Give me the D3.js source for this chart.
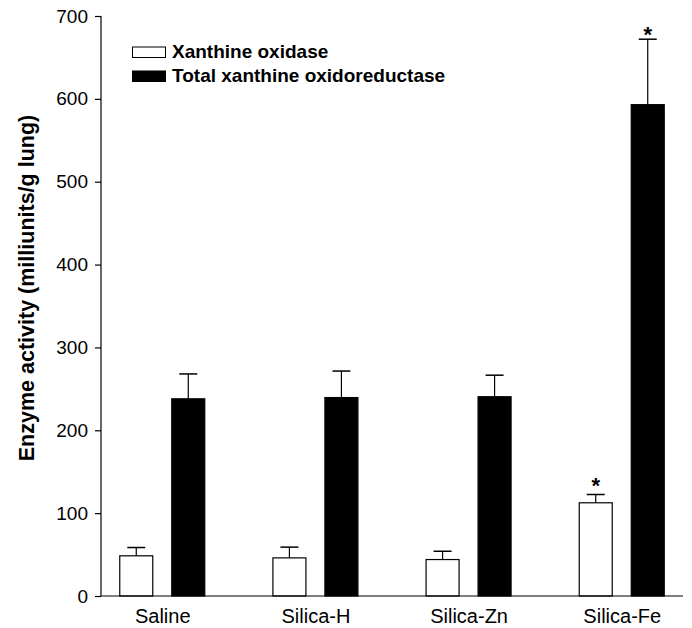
<!DOCTYPE html>
<html><head><meta charset="utf-8">
<script src="https://cdn.jsdelivr.net/npm/d3@7"></script>
<style>body{margin:0;background:#fff}svg{display:block;font-family:"Liberation Sans",Arial,sans-serif}</style>
</head><body>
<svg id="c" width="692" height="628"></svg>
<script>
const categories = ["Saline", "Silica-H", "Silica-Zn", "Silica-Fe"];
const seriesNames = ["Xanthine oxidase", "Total xanthine oxidoreductase"];
const xoValues = [48.5, 46, 44, 112.5];
const xoErrors = [10, 13, 10, 10];
const totalValues = [238, 239.5, 240.5, 593];
const totalErrors = [30, 32, 26, 79];
const xoSignif = [false, false, false, true];
const totalSignif = [false, false, false, true];
const yTicks = [0, 100, 200, 300, 400, 500, 600, 700];
const yTitle = "Enzyme activity (milliunits/g lung)";

(function () {
const svg = d3.select("#c");
const pl = 101, pr = 683, pt = 16, pb = 596;
const y = d3.scaleLinear().domain([0, 700]).range([pb, pt]);
const x = d3.scalePoint().domain(categories).range([pl, pr]).padding(0.4);
const barW = 34, offset = 26, capW = 18;

const series = [
  {vals: xoValues, errs: xoErrors, sig: xoSignif, fill: "#fff", dx: -offset, starDy: -2},
  {vals: totalValues, errs: totalErrors, sig: totalSignif, fill: "#000", dx: offset, starDy: 3}
];

series.forEach(s => {
  const g = svg.append("g");
  categories.forEach((c, i) => {
    const cx = x(c) + s.dx;
    const v = s.vals[i], e = s.errs[i];
    g.append("line").attr("x1", cx).attr("x2", cx).attr("y1", y(v)).attr("y2", y(v + e))
      .attr("stroke", "#000").attr("stroke-width", 1.2);
    g.append("line").attr("x1", cx - capW/2).attr("x2", cx + capW/2).attr("y1", y(v + e)).attr("y2", y(v + e))
      .attr("stroke", "#000").attr("stroke-width", 1.5);
    g.append("rect").attr("x", cx - barW/2 + 0.5).attr("y", y(v)).attr("width", barW - 1).attr("height", y(0) - y(v))
      .attr("fill", s.fill).attr("stroke", "#000").attr("stroke-width", 1.2);
    if (s.sig[i]) {
      g.append("text").attr("x", cx).attr("y", y(v + e) + s.starDy).attr("text-anchor", "middle")
        .attr("font-size", 22).attr("font-weight", "bold").text("*");
    }
  });
});

const yAxis = d3.axisLeft(y).tickValues(yTicks).tickSize(6).tickPadding(7).tickFormat(d3.format("d"));
const ya = svg.append("g").attr("transform", `translate(${pl},0)`).call(yAxis);
ya.select(".domain").attr("d", `M0,${pt}V${pb}`).attr("stroke-width", 1.2);
ya.selectAll("text").attr("font-size", 19).attr("font-family", "Liberation Sans, Arial, sans-serif").attr("fill", "#000");
ya.selectAll(".tick line").attr("stroke-width", 1.2);

const xa = svg.append("g").attr("transform", `translate(0,${pb})`).call(d3.axisBottom(x).tickSize(0).tickPadding(13));
xa.select(".domain").attr("d", `M${pl},0H${pr}`).attr("stroke-width", 1.2);
xa.selectAll("text").attr("font-size", 20).attr("font-family", "Liberation Sans, Arial, sans-serif").attr("fill", "#000");

svg.append("text").attr("transform", "translate(34,288) rotate(-90)").attr("text-anchor", "middle")
  .attr("font-size", 21.5).attr("font-weight", "bold").text(yTitle);

const lg = svg.append("g");
seriesNames.forEach((n, i) => {
  const ly = 47 + i * 24;
  lg.append("rect").attr("x", 132.5).attr("y", ly).attr("width", 33).attr("height", 10.5)
    .attr("fill", i === 0 ? "#fff" : "#000").attr("stroke", "#000").attr("stroke-width", 1);
  lg.append("text").attr("x", 172).attr("y", ly + 11).attr("font-size", 19).attr("font-weight", "bold").text(n);
});
})();
</script>
</body></html>
